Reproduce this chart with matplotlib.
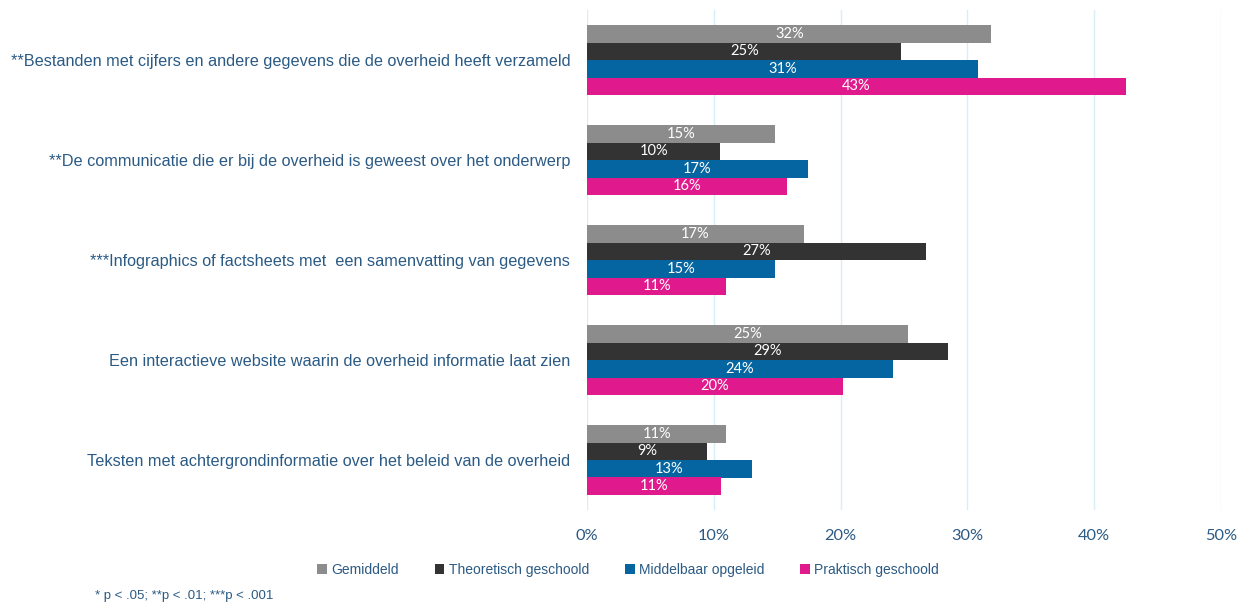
import matplotlib.pyplot as plt
import numpy as np

categorieen = [
    '**Bestanden met cijfers en andere gegevens die de overheid heeft verzameld',
    '**De communicatie die er bij de overheid is geweest over het onderwerp',
    '***Infographics of factsheets met  een samenvatting van gegevens',
    'Een interactieve website waarin de overheid informatie laat zien',
    'Teksten met achtergrondinformatie over het beleid van de overheid',
]
reeksen = ['Gemiddeld', 'Theoretisch geschoold', 'Middelbaar opgeleid', 'Praktisch geschoold']
gemiddeld = [31.9, 14.8, 17.1, 25.3, 11.0]
theoretisch = [24.8, 10.5, 26.7, 28.5, 9.5]
middelbaar = [30.8, 17.4, 14.8, 24.1, 13.0]
praktisch = [42.5, 15.8, 11.0, 20.2, 10.6]
labels = [
    ['32%', '15%', '17%', '25%', '11%'],
    ['25%', '10%', '27%', '29%', '9%'],
    ['31%', '17%', '15%', '24%', '13%'],
    ['43%', '16%', '11%', '20%', '11%'],
]
kleuren = ['#8c8c8c', '#333333', '#0465a1', '#e0198c']
tekstkleur = '#2b5a84'

fig = plt.figure(figsize=(12.43, 6.06), dpi=100)
ax = fig.add_axes([587 / 1243, 1 - 510 / 606, (1221 - 587) / 1243, 500 / 606])

y = np.arange(len(categorieen))
h = 0.175
data = [gemiddeld, theoretisch, middelbaar, praktisch]
for i, (vals, kl) in enumerate(zip(data, kleuren)):
    pos = y - 0.35 + h / 2 + i * h
    bars = ax.barh(pos, vals, height=h, color=kl, label=reeksen[i], zorder=3)
    for b, lab in zip(bars, labels[i]):
        ax.text(b.get_width() / 2, b.get_y() + b.get_height() / 2, lab,
                ha='center', va='center', color='white', fontsize=10.5,
                family='Lato', zorder=4)

ax.set_xlim(0, 50)
ax.set_ylim(4.5, -0.5)
ax.set_xticks(range(0, 51, 10))
ax.set_xticklabels([f'{t}%' for t in range(0, 51, 10)], family='Lato')
ax.set_yticks(y)
ax.set_yticklabels(categorieen, family='Liberation Sans', fontsize=11.7, color=tekstkleur)
ax.tick_params(axis='x', colors=tekstkleur, labelsize=11.8, length=0, pad=14)
ax.tick_params(axis='y', length=0, pad=12)
ax.grid(axis='x', color='#d7eef8', linewidth=1, zorder=0)
for s in ax.spines.values():
    s.set_visible(False)

leg = fig.legend(loc='center', bbox_to_anchor=(628 / 1243, 1 - 570 / 606), ncol=4,
                 frameon=False, handlelength=0.7, handleheight=0.7, columnspacing=2.6,
                 handletextpad=0.3, prop={'family': 'Liberation Sans', 'size': 10})
for t in leg.get_texts():
    t.set_color(tekstkleur)

fig.text(95 / 1243, 1 - 596 / 606, '* p < .05; **p < .01; ***p < .001', ha='left', va='center',
         fontsize=9.5, color=tekstkleur, family='Liberation Sans')

fig.savefig('out.png', dpi=100)
